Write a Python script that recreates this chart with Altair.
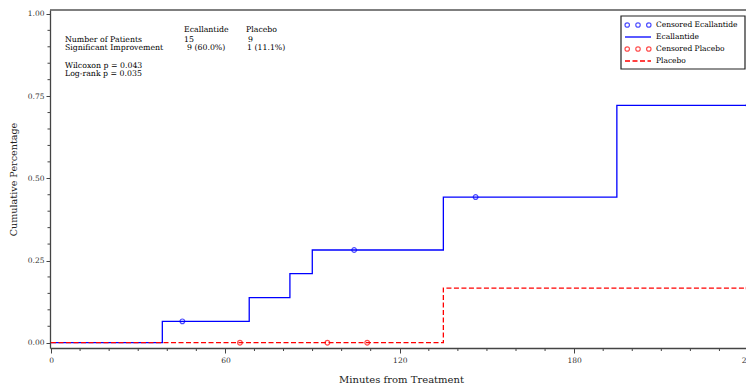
import altair as alt
import pandas as pd

# ---- data ----
ecal_time = [0, 38.3, 68.2, 82.2, 89.9, 135.0, 194.7, 240]
ecal_cum = [0.0, 0.065, 0.137, 0.210, 0.282, 0.443, 0.722, 0.722]
ecal_cens_time = [45.2, 104.3, 146.1, 240]
ecal_cens_cum = [0.065, 0.282, 0.443, 0.722]

plac_time = [0, 135.0, 240]
plac_cum = [0.0, 0.166, 0.166]
plac_cens_time = [65.0, 95.1, 108.8, 240]
plac_cens_cum = [0.0, 0.0, 0.0, 0.166]

x_major = [0, 60, 120, 180, 240]
x_minor = [v for v in range(0, 241, 10) if v % 60 != 0]
y_major = [0.0, 0.25, 0.5, 0.75, 1.0]
y_minor = [0.05, 0.1, 0.15, 0.2, 0.3, 0.35, 0.4, 0.45, 0.55, 0.6, 0.65, 0.7, 0.8, 0.85, 0.9, 0.95]

stat_header = ["Ecallantide", "Placebo"]
stat_rows = ["Number of Patients", "Significant Improvement"]
stat_ecal = ["15", "9 (60.0%)"]
stat_plac = ["9", "1 (11.1%)"]
pvalues = ["Wilcoxon p = 0.043", "Log-rank p = 0.035"]
legend_labels = ["Censored Ecallantide", "Ecallantide", "Censored Placebo", "Placebo"]

BLUE = "#0000ff"
RED = "#ff0000"
AXC = "#444"
FONT = "DejaVu Serif"
W, H = 696, 338

df_e = pd.DataFrame({"t": ecal_time, "c": ecal_cum})
df_p = pd.DataFrame({"t": plac_time, "c": plac_cum})
df_ec = pd.DataFrame({"t": ecal_cens_time, "c": ecal_cens_cum})
df_pc = pd.DataFrame({"t": plac_cens_time, "c": plac_cens_cum})
df_xm = pd.DataFrame({"t": x_minor})
df_ym = pd.DataFrame({"c": y_minor})

xscale = alt.Scale(domain=[-0.35, 241.2], range=[0, 702], nice=False, zero=False)
yscale = alt.Scale(domain=[-0.0161, 1.0119], nice=False, zero=False)

xaxis = alt.Axis(
    values=x_major,
    format="d",
    tickSize=5,
    labelPadding=3,
    titlePadding=11,
    titleFontSize=10,
    labelOverlap=False,
)
yaxis = alt.Axis(
    values=y_major,
    format=".2f",
    tickSize=4,
    labelPadding=2,
    titlePadding=9,
    titleFontSize=9.6,
    labelOverlap=False,
)
xenc = alt.X("t:Q", scale=xscale, title="Minutes from Treatment", axis=xaxis)
yenc = alt.Y("c:Q", scale=yscale, title="Cumulative Percentage", axis=yaxis)

line_e = alt.Chart(df_e).mark_line(interpolate="step-after", color=BLUE, strokeWidth=1.3).encode(x=xenc, y=yenc)
line_p = alt.Chart(df_p).mark_line(
    interpolate="step-after", color=RED, strokeWidth=1.3, strokeDash=[5, 2.5]
).encode(x=xenc, y=yenc)
pts_e = alt.Chart(df_ec).mark_point(shape="circle", filled=False, color=BLUE, size=22, strokeWidth=1.2).encode(
    x=xenc, y=yenc
)
pts_p = alt.Chart(df_pc).mark_point(shape="circle", filled=False, color=RED, size=22, strokeWidth=1.2).encode(
    x=xenc, y=yenc
)

# minor ticks (drawn through the same scales)
xminor = alt.Chart(df_xm).mark_rule(color=AXC, strokeWidth=1).encode(
    x=xenc, y=alt.value(H), y2=alt.value(H + 3)
)
yminor = alt.Chart(df_ym).mark_rule(color=AXC, strokeWidth=1).encode(
    y=yenc, x=alt.value(-2.5), x2=alt.value(0)
)

one = alt.Data(values=[{}])


def txt(s, x, y, size=7.8, align="left", color="#000"):
    return alt.Chart(one).mark_text(
        text=s, font=FONT, fontSize=size, align=align, baseline="middle", color=color
    ).encode(x=alt.value(x), y=alt.value(y))


top_border = alt.Chart(one).mark_rule(color="#555", strokeWidth=1.5).encode(
    x=alt.value(0), x2=alt.value(702), y=alt.value(0)
)

texts = [
    txt(stat_header[0], 134, 20),
    txt(stat_header[1], 196, 20),
    txt(stat_rows[0], 15, 30),
    txt(stat_ecal[0], 134, 30),
    txt(stat_plac[0], 198, 30),
    txt(stat_rows[1], 15, 38.3),
    txt(stat_ecal[1], 137, 38.3),
    txt(stat_plac[1], 197, 38.3),
    txt(pvalues[0], 15, 55.7),
    txt(pvalues[1], 15, 64),
]

# legend box
LX0, LX1, LY0, LY1 = 571, 695, 6, 59
legend_box = alt.Chart(one).mark_rect(fill="white", stroke="#222", strokeWidth=1.2).encode(
    x=alt.value(LX0), x2=alt.value(LX1), y=alt.value(LY0), y2=alt.value(LY1)
)
three_circles = (
    "M -1.0,0 a 0.17,0.17 0 1,0 0.34,0 a 0.17,0.17 0 1,0 -0.34,0 "
    "M -0.17,0 a 0.17,0.17 0 1,0 0.34,0 a 0.17,0.17 0 1,0 -0.34,0 "
    "M 0.66,0 a 0.17,0.17 0 1,0 0.34,0 a 0.17,0.17 0 1,0 -0.34,0"
)
rows_y = [15, 27, 39, 51]
leg = [legend_box]
leg.append(
    alt.Chart(one).mark_point(shape=three_circles, filled=False, color=BLUE, size=676, strokeWidth=1.2).encode(
        x=alt.value(588), y=alt.value(rows_y[0])
    )
)
leg.append(
    alt.Chart(one).mark_rule(color=BLUE, strokeWidth=1.3).encode(
        x=alt.value(575), x2=alt.value(601), y=alt.value(rows_y[1])
    )
)
leg.append(
    alt.Chart(one).mark_point(shape=three_circles, filled=False, color=RED, size=676, strokeWidth=1.2).encode(
        x=alt.value(588), y=alt.value(rows_y[2])
    )
)
leg.append(
    alt.Chart(one).mark_rule(color=RED, strokeWidth=1.3, strokeDash=[5, 2.5]).encode(
        x=alt.value(575), x2=alt.value(601), y=alt.value(rows_y[3])
    )
)
for lab, yy in zip(legend_labels, rows_y):
    leg.append(txt(lab, 606, yy, size=7.5))

chart = (
    alt.layer(line_e, line_p, pts_e, pts_p, xminor, yminor, top_border, *texts, *leg)
    .properties(
        width=W,
        height=H,
        autosize=alt.AutoSizeParams(type="none"),
        padding={"left": 50, "top": 10, "right": 0, "bottom": 43},
    )
    .configure_view(stroke=None)
    .configure_axis(
        grid=False,
        domainColor=AXC,
        domainWidth=1.3,
        tickColor=AXC,
        labelFont=FONT,
        labelFontSize=7.5,
        labelColor="#333",
        titleFont=FONT,
        titleFontWeight="normal",
        titleColor="#222",
    )
)

chart.save("out.html", embed_options={"renderer": "svg", "actions": False})
